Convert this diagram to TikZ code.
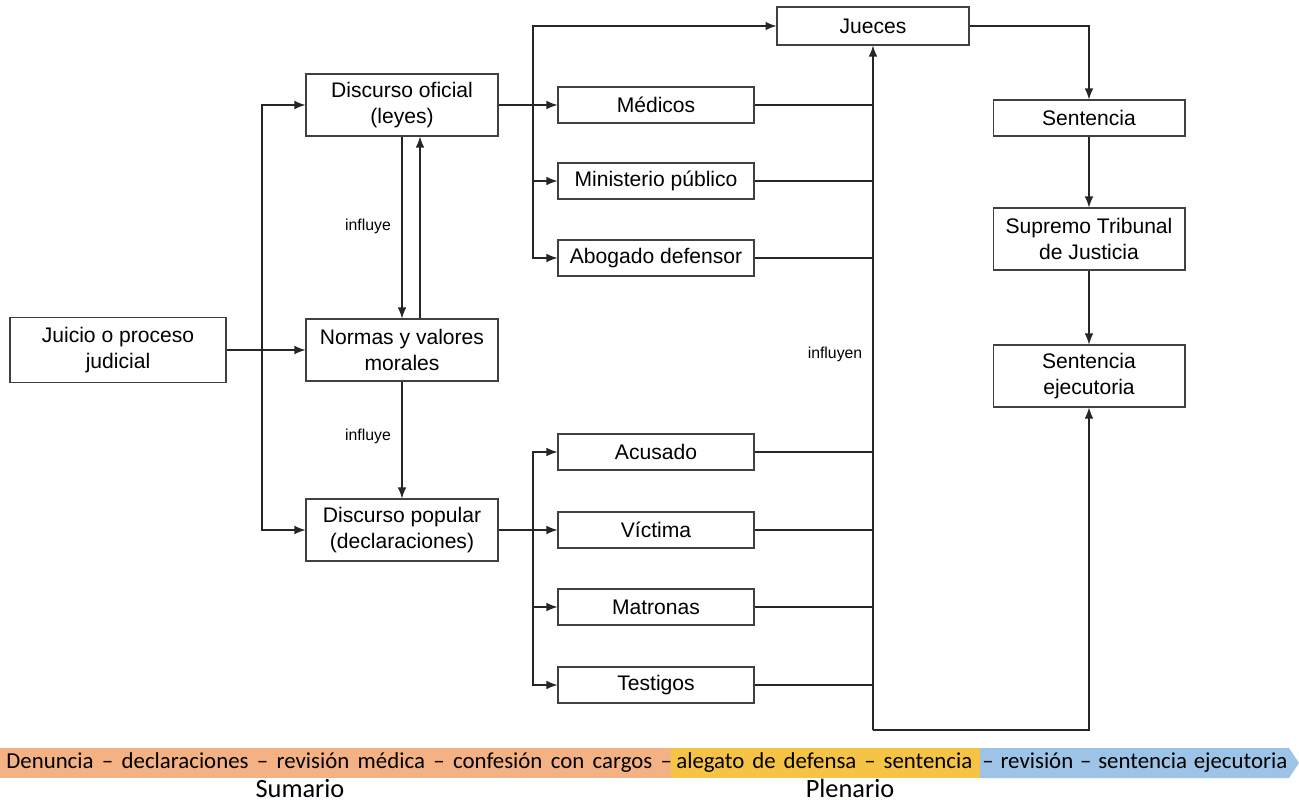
\documentclass[tikz,border=0pt]{standalone}
\usepackage{fontspec}
\setmainfont{Liberation Sans}
\newfontfamily\barfont{Carlito}
\usetikzlibrary{arrows.meta}
\definecolor{sumcol}{HTML}{F4B183}
\definecolor{plecol}{HTML}{F6C445}
\definecolor{revcol}{HTML}{9DC3E6}

\begin{document}
\begin{tikzpicture}[x=0.02cm,y=-0.02cm,
        box/.style={draw=black!75, line width=0.6pt, align=center, inner sep=0pt, font=\fontsize{12}{14.5}\selectfont},
        bigbox/.style={box, minimum width=3.84cm, minimum height=1.24cm},
        smallbox/.style={box, minimum width=3.92cm, minimum height=0.72cm},
        conn/.style={line width=0.6pt, black!85},
        arr/.style={conn, -{Latex[length=2.2mm,width=1.7mm]}},
        lbl/.style={font=\fontsize{9}{11}\selectfont},
        barlbl/.style={font=\barfont\fontsize{13}{15.5}\selectfont, inner sep=0pt, anchor=base west},
        phaselbl/.style={font=\barfont\fontsize{15}{18}\selectfont, inner sep=0pt, anchor=base}]
        \useasboundingbox (0,0) rectangle (1299,801);

        % left column
        \node[bigbox, minimum width=4.32cm, minimum height=1.3cm] (juicio) at (118,350) {Juicio o proceso\\judicial};
        \node[bigbox] (oficial) at (402,105) {Discurso oficial\\(leyes)};
        \node[bigbox] (normas) at (402,350) {Normas y valores\\morales};
        \node[bigbox] (popular) at (402,530) {Discurso popular\\(declaraciones)};

        % participants
        \node[smallbox] (medicos) at (656,105) {Médicos};
        \node[smallbox] (ministerio) at (656,181) {Ministerio público};
        \node[smallbox] (abogado) at (656,258) {Abogado defensor};
        \node[smallbox] (acusado) at (656,452) {Acusado};
        \node[smallbox] (victima) at (656,530) {Víctima};
        \node[smallbox] (matronas) at (656,607) {Matronas};
        \node[smallbox] (testigos) at (656,685) {Testigos};

        % right column
        \node[smallbox, minimum width=3.84cm, minimum height=0.76cm] (jueces) at (873,26) {Jueces};
        \node[smallbox, minimum width=3.84cm] (sentencia) at (1089,118) {Sentencia};
        \node[bigbox] (supremo) at (1089,239) {Supremo Tribunal\\de Justicia};
        \node[bigbox] (ejecutoria) at (1089,376) {Sentencia\\ejecutoria};

        \coordinate (splitL) at (262,350);
        \coordinate (splitA) at (533,105);
        \coordinate (splitB) at (533,530);
        \coordinate (joinJ) at (873,730);

        \draw[arr] (juicio) -- (normas);
        \draw[arr] (splitL) |- (oficial.west);
        \draw[arr] (splitL) |- (popular.west);

        \draw[arr] (oficial.south) -- (normas.north);
        \draw[arr] ([xshift=0.36cm]normas.north) -- ([xshift=0.36cm]oficial.south);
        \draw[arr] (normas.south) -- (popular.north);
        \node[lbl] (inf1) at (368,226) {influye};
        \node[lbl] (inf2) at (368,436) {influye};

        \draw[arr] (oficial.east) -- (medicos.west);
        \foreach \n in {jueces, ministerio, abogado}
            \draw[arr] (splitA) |- (\n.west);
        \draw[arr] (popular.east) -- (victima.west);
        \foreach \n in {acusado, matronas, testigos}
            \draw[arr] (splitB) |- (\n.west);

        \foreach \n in {medicos, ministerio, abogado, acusado, victima, matronas, testigos}
            \draw[conn] (\n.east) -- (\n.east -| joinJ);
        \draw[arr] (joinJ) -- (jueces.south);
        \draw[arr] (joinJ) -| (ejecutoria.south);
        \node[lbl] (inf3) at (835,354) {influyen};

        \draw[arr] (jueces.east) -| (sentencia.north);
        \draw[arr] (sentencia) -- (supremo);
        \draw[arr] (supremo) -- (ejecutoria);

        % timeline bar
        \fill[sumcol] (0,748) rectangle (671,778);
        \fill[plecol] (671,748) rectangle (980,778);
        \fill[revcol] (980,748) -- (1289,748) -- (1299,763) -- (1289,778) -- (980,778) -- cycle;
        \node[barlbl] (faseA) at (6,768) {\makebox[13.32cm][s]{Denuncia – declaraciones – revisión médica – confesión con cargos –}};
        \node[barlbl] (faseB) at (676,768) {\makebox[5.92cm][s]{alegato de defensa – sentencia}};
        \node[barlbl] (faseC) at (982,768) {\makebox[6.1cm][s]{– revisión – sentencia ejecutoria}};
        \node[phaselbl] (sumario) at (300,797) {Sumario};
        \node[phaselbl] (plenario) at (850,797) {Plenario};
\end{tikzpicture}
\end{document}
